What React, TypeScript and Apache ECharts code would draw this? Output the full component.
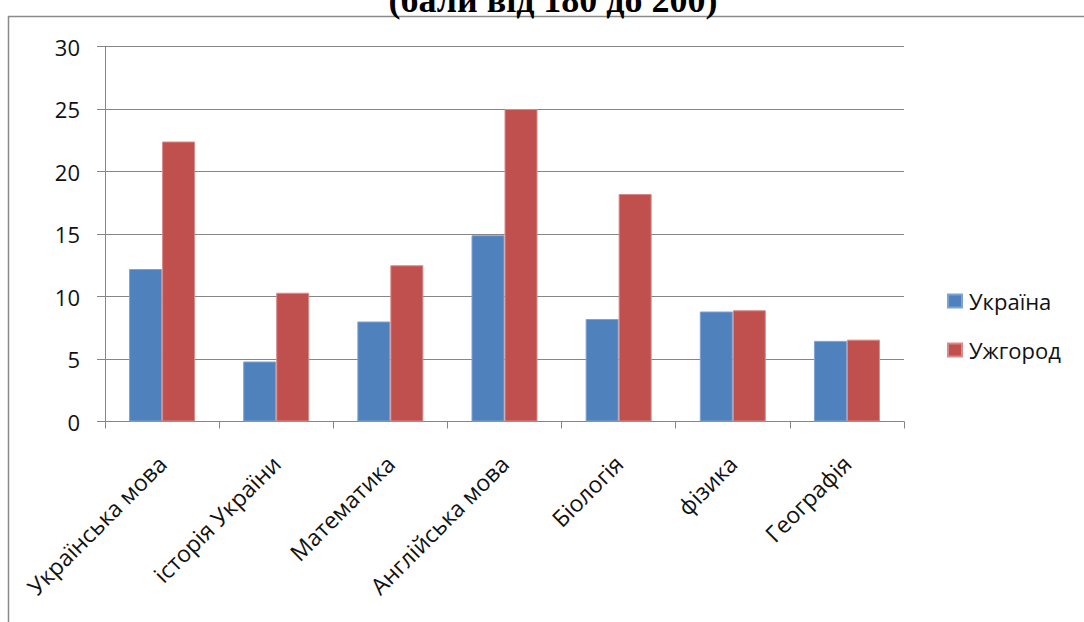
import React, { useEffect, useRef } from "react";
import * as echarts from "echarts";

const categories = [
  "Українська мова",
  "історія України",
  "Математика",
  "Англійська мова",
  "Біологія",
  "фізика",
  "Географія",
];
const ukraineValues = [12.2, 4.8, 8.0, 14.9, 8.2, 8.8, 6.45];
const uzhhorodValues = [22.4, 10.3, 12.5, 25.0, 18.2, 8.9, 6.55];
const yTicks = { min: 0, max: 30, interval: 5 };
const titleText = "(бали від 180 до 200)";

const FONT = "'Open Sans', 'Noto Sans', sans-serif";

export default function App() {
  const ref = useRef<HTMLDivElement>(null);
  useEffect(() => {
    if (!ref.current) return;
    const chart = echarts.init(ref.current, null, { renderer: "svg" });
    chart.setOption({
      animation: false,
      backgroundColor: "#ffffff",
      graphic: [
        {
          type: "rect",
          shape: { x: 8.5, y: 16.5, width: 1300, height: 800 },
          style: { fill: "none", stroke: "#8a8a8a", lineWidth: 1.5 },
          silent: true,
        },
        {
          type: "text",
          x: 553,
          y: 0,
          style: {
            text: titleText,
            fontFamily: "'Liberation Serif', 'DejaVu Serif', serif",
            fontWeight: "bold",
            fontSize: 36,
            fill: "#000",
            align: "center",
            verticalAlign: "middle",
          },
          silent: true,
        },
      ],
      grid: { left: 105, right: 180, top: 46.5, bottom: 200.5, containLabel: false },
      legend: {
        orient: "vertical",
        left: 942,
        top: 284,
        itemWidth: 14,
        itemHeight: 13,
        itemGap: 25,
        icon: "rect",
        textStyle: {
          fontFamily: FONT,
          fontSize: 22,
          color: "#111",
          padding: [0, 0, 0, 2],
          lineHeight: 24,
        },
        data: ["Україна", "Ужгород"],
      },
      xAxis: {
        type: "category",
        data: categories,
        axisLine: { lineStyle: { color: "#868686", width: 1 } },
        axisTick: { show: true, length: 7, lineStyle: { color: "#868686" } },
        axisLabel: {
          rotate: 45,
          margin: 38,
          interval: 0,
          fontFamily: FONT,
          fontSize: 23,
          color: "#111",
        },
        splitLine: { show: false },
      },
      yAxis: {
        type: "value",
        min: yTicks.min,
        max: yTicks.max,
        interval: yTicks.interval,
        axisLine: { show: true, lineStyle: { color: "#868686", width: 1 } },
        axisTick: { show: true, length: 8, lineStyle: { color: "#868686" } },
        axisLabel: {
          margin: 25,
          fontFamily: FONT,
          fontSize: 22,
          color: "#111",
        },
        splitLine: { show: true, lineStyle: { color: "#868686", width: 1 } },
      },
      series: [
        {
          name: "Україна",
          type: "bar",
          data: ukraineValues,
          barWidth: 33,
          barGap: "0%",
          itemStyle: { color: "#4F81BD", borderColor: "#7ea3d3", borderWidth: 1 },
        },
        {
          name: "Ужгород",
          type: "bar",
          data: uzhhorodValues,
          barWidth: 33,
          barGap: "0%",
          itemStyle: { color: "#C0504D", borderColor: "#d98a88", borderWidth: 1 },
        },
      ],
    });
    return () => chart.dispose();
  }, []);
  return (
    <div
      ref={ref}
      style={{ position: "fixed", left: 0, top: 0, width: 1084, height: 622 }}
    />
  );
}
